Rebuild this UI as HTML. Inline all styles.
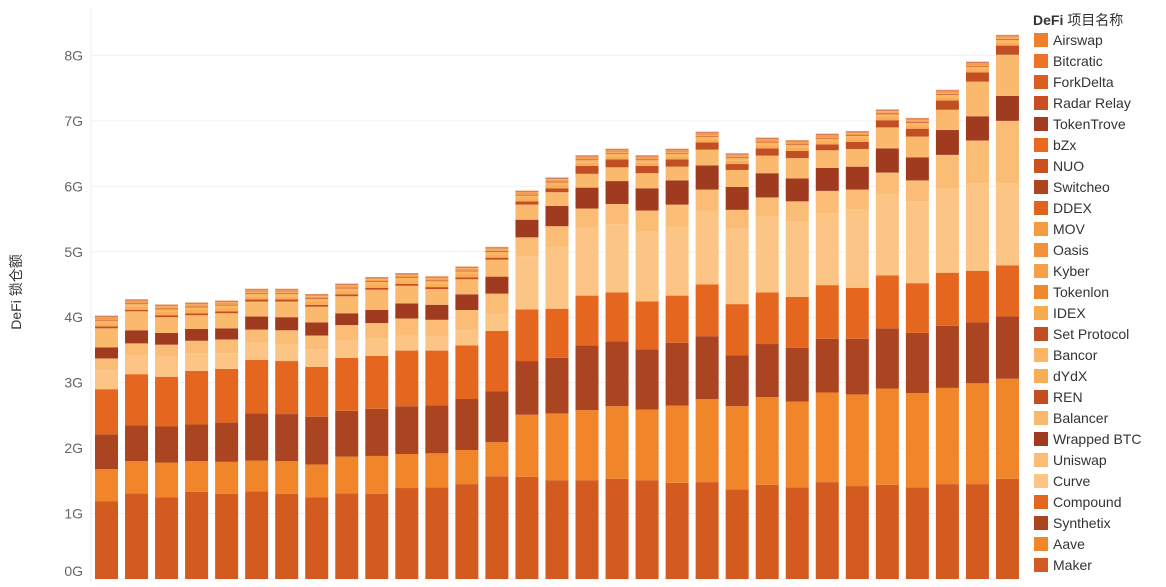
<!DOCTYPE html>
<html><head><meta charset="utf-8">
<style>
html,body{margin:0;padding:0;background:#fff;}
body{width:1166px;height:582px;overflow:hidden;font-family:"Liberation Sans","Noto Sans CJK SC",sans-serif;}
svg text{font-family:"Liberation Sans","Noto Sans CJK SC",sans-serif;}
</style></head>
<body>
<svg id="chart" width="1166" height="582" xmlns="http://www.w3.org/2000/svg">
  <g id="grid"></g>
  <g id="yaxis"></g>
  <text transform="translate(21,292) rotate(-90)" text-anchor="middle" font-size="14" fill="#333">DeFi 锁仓额</text>
  <g id="bars"></g>
  <g id="legend">
    <text x="1033" y="25" font-size="14" fill="#333"><tspan font-weight="bold">DeFi</tspan> 项目名称</text>
  </g>
</svg>
<script>
const seriesNames = ["Maker","Aave","Synthetix","Compound","Curve","Uniswap","Wrapped BTC","Balancer","REN","dYdX","Bancor","Set Protocol","IDEX","Tokenlon","Kyber","Oasis","MOV","DDEX","Switcheo","NUO","bZx","TokenTrove","Radar Relay","ForkDelta","Bitcratic","Airswap"];
const maker = [1.19,1.31,1.25,1.33,1.30,1.34,1.30,1.25,1.31,1.30,1.39,1.40,1.45,1.57,1.56,1.51,1.51,1.53,1.51,1.47,1.48,1.37,1.44,1.40,1.48,1.42,1.44,1.40,1.45,1.45,1.53];
const aave = [.49,.49,.53,.47,.49,.47,.50,.50,.56,.58,.52,.52,.52,.52,.95,1.02,1.07,1.11,1.08,1.18,1.27,1.27,1.34,1.31,1.37,1.40,1.47,1.44,1.47,1.54,1.53];
const synthetix = [.53,.55,.55,.56,.60,.72,.72,.73,.70,.72,.73,.73,.78,.78,.82,.85,.99,.99,.92,.96,.96,.78,.81,.82,.82,.85,.92,.92,.95,.93,.95];
const compound = [.69,.78,.76,.82,.82,.82,.81,.76,.81,.81,.85,.84,.82,.92,.79,.75,.76,.75,.73,.72,.79,.78,.79,.78,.82,.78,.81,.76,.81,.79,.78];
const curve = [.29,.29,.31,.26,.24,.26,.26,.27,.26,.26,.23,.21,.23,.26,.81,.95,1.04,1.04,1.07,1.05,1.13,1.15,1.16,1.15,1.10,1.19,1.25,1.25,1.28,1.33,1.25];
const uniswap = [.18,.18,.18,.20,.21,.20,.21,.21,.24,.24,.26,.26,.31,.31,.29,.31,.29,.31,.32,.34,.32,.29,.29,.31,.34,.31,.32,.32,.52,.66,.96];
const wbtc = [.17,.20,.18,.18,.17,.20,.20,.20,.18,.20,.23,.23,.24,.26,.27,.31,.32,.35,.34,.37,.37,.35,.37,.35,.35,.35,.37,.35,.38,.37,.38];
const balancer = [.29,.29,.24,.21,.23,.23,.24,.24,.26,.31,.27,.24,.23,.26,.23,.21,.21,.21,.23,.21,.24,.26,.27,.31,.27,.27,.32,.32,.31,.53,.63];
const ren = [.03,.02,.03,.03,.03,.03,.03,.03,.03,.03,.03,.03,.03,.03,.05,.06,.12,.12,.11,.11,.11,.09,.11,.11,.09,.11,.11,.12,.14,.14,.14];
const dydx = [.05,.05,.05,.05,.05,.05,.05,.05,.05,.05,.05,.05,.05,.05,.05,.05,.05,.05,.05,.05,.05,.05,.05,.05,.05,.05,.05,.05,.05,.05,.05];
const bancor = [.04,.04,.04,.04,.04,.04,.04,.04,.04,.04,.04,.04,.04,.04,.04,.04,.04,.04,.04,.04,.04,.04,.04,.04,.04,.04,.04,.04,.04,.04,.04];
const setProtocol = [.012,.012,.012,.012,.012,.012,.012,.012,.012,.012,.012,.012,.012,.012,.012,.012,.012,.012,.012,.012,.012,.012,.012,.012,.012,.012,.012,.012,.012,.012,.012];
const idex = [.01,.01,.01,.01,.01,.01,.01,.01,.01,.01,.01,.01,.01,.01,.01,.01,.01,.01,.01,.01,.01,.01,.01,.01,.01,.01,.01,.01,.01,.01,.01];
const tokenlon = [.01,.01,.01,.01,.01,.01,.01,.01,.01,.01,.01,.01,.01,.01,.01,.01,.01,.01,.01,.01,.01,.01,.01,.01,.01,.01,.01,.01,.01,.01,.01];
const kyber = [.008,.008,.008,.008,.008,.008,.008,.008,.008,.008,.008,.008,.008,.008,.008,.008,.008,.008,.008,.008,.008,.008,.008,.008,.008,.008,.008,.008,.008,.008,.008];
const oasis = [.006,.006,.006,.006,.006,.006,.006,.006,.006,.006,.006,.006,.006,.006,.006,.006,.006,.006,.006,.006,.006,.006,.006,.006,.006,.006,.006,.006,.006,.006,.006];
const mov = [.004,.004,.004,.004,.004,.004,.004,.004,.004,.004,.004,.004,.004,.004,.004,.004,.004,.004,.004,.004,.004,.004,.004,.004,.004,.004,.004,.004,.004,.004,.004];
const ddex = [.004,.004,.004,.004,.004,.004,.004,.004,.004,.004,.004,.004,.004,.004,.004,.004,.004,.004,.004,.004,.004,.004,.004,.004,.004,.004,.004,.004,.004,.004,.004];
const switcheo = [.004,.004,.004,.004,.004,.004,.004,.004,.004,.004,.004,.004,.004,.004,.004,.004,.004,.004,.004,.004,.004,.004,.004,.004,.004,.004,.004,.004,.004,.004,.004];
const nuo = [.003,.003,.003,.003,.003,.003,.003,.003,.003,.003,.003,.003,.003,.003,.003,.003,.003,.003,.003,.003,.003,.003,.003,.003,.003,.003,.003,.003,.003,.003,.003];
const bzx = [.004,.004,.004,.004,.004,.004,.004,.004,.004,.004,.004,.004,.004,.004,.004,.004,.004,.004,.004,.004,.004,.004,.004,.004,.004,.004,.004,.004,.004,.004,.004];
const tokenTrove = [.002,.002,.002,.002,.002,.002,.002,.002,.002,.002,.002,.002,.002,.002,.002,.002,.002,.002,.002,.002,.002,.002,.002,.002,.002,.002,.002,.002,.002,.002,.002];
const radarRelay = [.002,.002,.002,.002,.002,.002,.002,.002,.002,.002,.002,.002,.002,.002,.002,.002,.002,.002,.002,.002,.002,.002,.002,.002,.002,.002,.002,.002,.002,.002,.002];
const forkDelta = [.002,.002,.002,.002,.002,.002,.002,.002,.002,.002,.002,.002,.002,.002,.002,.002,.002,.002,.002,.002,.002,.002,.002,.002,.002,.002,.002,.002,.002,.002,.002];
const bitcratic = [.002,.002,.002,.002,.002,.002,.002,.002,.002,.002,.002,.002,.002,.002,.002,.002,.002,.002,.002,.002,.002,.002,.002,.002,.002,.002,.002,.002,.002,.002,.002];
const airswap = [.002,.002,.002,.002,.002,.002,.002,.002,.002,.002,.002,.002,.002,.002,.002,.002,.002,.002,.002,.002,.002,.002,.002,.002,.002,.002,.002,.002,.002,.002,.002];
const yTicks = [0,1,2,3,4,5,6,7,8];
const yTickLabels = ["0G","1G","2G","3G","4G","5G","6G","7G","8G"];

const seriesValues = [maker,aave,synthetix,compound,curve,uniswap,wbtc,balancer,ren,dydx,bancor,setProtocol,idex,tokenlon,kyber,oasis,mov,ddex,switcheo,nuo,bzx,tokenTrove,radarRelay,forkDelta,bitcratic,airswap];
const colors = {"Maker":"#d35b20","Aave":"#f0852a","Synthetix":"#aa4421","Compound":"#e5671f","Curve":"#fdc585","Uniswap":"#fbbd76","Wrapped BTC":"#a03b20","Balancer":"#fbb96d","REN":"#c24f22","dYdX":"#f9ad55","Bancor":"#fbb564","Set Protocol":"#c24d22","IDEX":"#f8ab4c","Tokenlon":"#f08830","Kyber":"#f7a045","Oasis":"#f3923a","MOV":"#f59b42","DDEX":"#e0621f","Switcheo":"#ad4522","NUO":"#c9521f","bZx":"#e8691f","TokenTrove":"#a13c21","Radar Relay":"#c74f22","ForkDelta":"#dc5d20","Bitcratic":"#ee7325","Airswap":"#f07f2b"};

const NS = "http://www.w3.org/2000/svg";
const plotLeft = 91, plotRight = 1022, y0 = 579, pxPerG = 65.45;
const nBars = maker.length;
const band = (plotRight - plotLeft) / nBars;
const barW = 23;
function yScale(v){ return y0 - v * pxPerG; }
function xScale(i){ return plotLeft + 4 + i * band; }

const grid = document.getElementById('grid');
const yaxis = document.getElementById('yaxis');
const vline = document.createElementNS(NS,'line');
vline.setAttribute('x1',plotLeft); vline.setAttribute('x2',plotLeft);
vline.setAttribute('y1',8); vline.setAttribute('y2',582);
vline.setAttribute('stroke','#ececec');


grid.appendChild(vline);
yTicks.forEach((t,k)=>{
  const y = yScale(t);
  const ln = document.createElementNS(NS,'line');
  ln.setAttribute('x1',plotLeft); ln.setAttribute('x2',plotRight);
  ln.setAttribute('y1',y); ln.setAttribute('y2',y);
  ln.setAttribute('stroke','#f0f0f0');
  
  
  grid.appendChild(ln);
  const tx = document.createElementNS(NS,'text');
  tx.setAttribute('x',83);
  tx.setAttribute('y', t===0 ? y - 3 : y + 5);
  tx.setAttribute('text-anchor','end');
  tx.setAttribute('font-size','14');
  tx.setAttribute('fill','#666');
  tx.textContent = yTickLabels[k];
  
  
  yaxis.appendChild(tx);
});

const bars = document.getElementById('bars');
for(let i=0;i<nBars;i++){
  const g = document.createElementNS(NS,'g');
  
  
  let cum = 0;
  seriesValues.forEach((arr,s)=>{
    const v = arr[i];
    const yTop = yScale(cum + v), yBot = yScale(cum);
    cum += v;
    const r = document.createElementNS(NS,'rect');
    r.setAttribute('x', xScale(i));
    r.setAttribute('y', yTop);
    r.setAttribute('width', barW);
    r.setAttribute('height', Math.max(0, yBot - yTop));
    r.setAttribute('fill', colors[seriesNames[s]]);
    
    
    g.appendChild(r);
  });
  bars.appendChild(g);
}

const legend = document.getElementById('legend');
const legendOrder = seriesNames.slice().reverse();
legendOrder.forEach((name,k)=>{
  const y = 40 + k * 21;
  const g = document.createElementNS(NS,'g');
  
  
  const r = document.createElementNS(NS,'rect');
  r.setAttribute('x',1034); r.setAttribute('y', y - 7);
  r.setAttribute('width',14); r.setAttribute('height',14);
  r.setAttribute('fill', colors[name]);
  
  
  g.appendChild(r);
  const t = document.createElementNS(NS,'text');
  t.setAttribute('x',1053); t.setAttribute('y', y + 5);
  t.setAttribute('font-size','14'); t.setAttribute('fill','#333');
  t.textContent = name;
  
  
  g.appendChild(t);
  legend.appendChild(g);
});
</script>
</body></html>
